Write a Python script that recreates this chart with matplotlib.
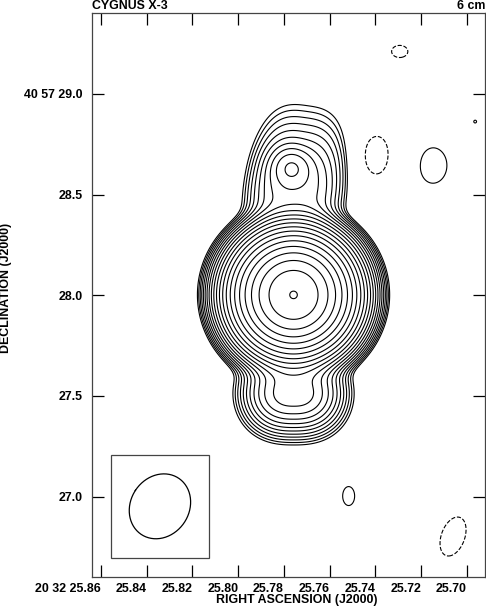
import numpy as np
import matplotlib
matplotlib.use("Agg")
import matplotlib.pyplot as plt
from matplotlib.patches import Rectangle

plt.rcParams["font.family"] = ["Liberation Sans", "DejaVu Sans"]
plt.rcParams["font.weight"] = "bold"

# map centre (core position) and axis limits
RA0 = 25.7758     # s, offset from 20 32
DEC0 = 28.002     # arcsec, offset from 40 57
RA_LIM = (25.8639, 25.6921)
DEC_LIM = (26.601, 29.402)
ARCSEC_PER_SEC = 11.33   # 15 * cos(dec)

# bright core: peak, gaussian sigma, edge radius and edge steepness (arcsec)
CORE_AMP = 1460.0
CORE_SIGMA = 0.144
CORE_EDGE = 0.477
CORE_EDGE_DEPTH = 1.85

# extended components: east/north offsets (arcsec), peak, widths, shape exponents, PA
#          north lobe  knot   south lobe
comp_dx = [-0.010, 0.010, 0.000]
comp_dy = [0.524, 0.633, -0.490]
comp_amp = [13.5, 13.0, 40.0]
comp_sx = [0.149, 0.060, 0.135]
comp_sy = [0.184, 0.060, 0.094]
comp_px = [3.0, 2.0, 2.5]
comp_py = [2.0, 2.0, 2.0]
comp_pa = [-8.0, 0.0, 0.0]

# noise patches
noise_dx = [-0.526, -0.415, -0.790, -0.688, -0.273, -0.900]
noise_dy = [1.209, 0.693, -1.200, 0.643, -0.999, 0.861]
noise_amp = [-1.25, -1.30, -1.30, 1.30, 1.15, 1.01]
noise_sx = [0.060, 0.092, 0.080, 0.099, 0.056, 0.025]
noise_sy = [0.045, 0.134, 0.139, 0.124, 0.089, 0.025]
noise_pa = [0.0, 0.0, -20.0, 0.0, 0.0, 0.0]

# contour levels (multiples of lowest level)
levels = [-1.0, 1.0, 1.41, 2.0, 2.83, 4.0, 5.66, 8.0, 11.3, 16.0, 22.6, 32.0,
          45.3, 64.0, 90.5, 128.0, 181.0, 256.0, 362.0, 512.0, 724.0, 1024.0,
          1448.0]

# restoring beam
BEAM_RA = 25.8342
BEAM_DEC = 26.952
BEAM_MAJ = 0.335
BEAM_MIN = 0.290
BEAM_PA = -33.0

xticks = [25.86, 25.84, 25.82, 25.80, 25.78, 25.76, 25.74, 25.72, 25.70]
xticklabels = ["20 32 25.86", "25.84", "25.82", "25.80", "25.78", "25.76",
               "25.74", "25.72", "25.70"]
yticks = [27.0, 27.5, 28.0, 28.5, 29.0]
yticklabels = ["27.0", "27.5", "28.0", "28.5", "40 57 29.0"]


def component(dx, dy, amp, sx, sy, px, py, pa):
    t = np.deg2rad(pa)
    u = dx * np.cos(t) - dy * np.sin(t)
    v = dx * np.sin(t) + dy * np.cos(t)
    return amp * np.exp(-0.5 * (np.abs(u / sx) ** px + np.abs(v / sy) ** py))


ra = np.linspace(RA_LIM[1], RA_LIM[0], 800)
dec = np.linspace(DEC_LIM[0], DEC_LIM[1], 1100)
RA, DEC = np.meshgrid(ra, dec)
EAST = (RA - RA0) * ARCSEC_PER_SEC
NORTH = DEC - DEC0

r = np.hypot(EAST, NORTH)
img = CORE_AMP * np.exp(-0.5 * (r / CORE_SIGMA) ** 2
                        - CORE_EDGE_DEPTH * (r / CORE_EDGE) ** 8)
for i in range(len(comp_amp)):
    img += component(EAST - comp_dx[i], NORTH - comp_dy[i], comp_amp[i],
                     comp_sx[i], comp_sy[i], comp_px[i], comp_py[i], comp_pa[i])
for i in range(len(noise_amp)):
    img += component(EAST - noise_dx[i], NORTH - noise_dy[i], noise_amp[i],
                     noise_sx[i], noise_sy[i], 2.0, 2.0, noise_pa[i])

fig = plt.figure(figsize=(4.86, 6.07), dpi=100)
ax = fig.add_axes([92 / 486, 30 / 607, 393 / 486, 564 / 607])

styles = ["dashed" if lv < 0 else "solid" for lv in levels]
ax.contour(RA, DEC, img, levels=levels, colors="black", linewidths=0.8,
           linestyles=styles)

ax.set_xlim(*RA_LIM)
ax.set_ylim(*DEC_LIM)

# beam box + beam ellipse
ax.add_patch(Rectangle((0.0483, 0.0337), 0.2494, 0.1826, transform=ax.transAxes,
                       facecolor="white", edgecolor="#444444", lw=0.9, zorder=3))
t = np.linspace(0, 2 * np.pi, 200)
pa = np.deg2rad(BEAM_PA)
bx = 0.5 * BEAM_MIN * np.cos(t)
by = 0.5 * BEAM_MAJ * np.sin(t)
be = bx * np.cos(pa) + by * np.sin(pa)
bn = -bx * np.sin(pa) + by * np.cos(pa)
ax.plot(BEAM_RA + be / ARCSEC_PER_SEC, BEAM_DEC + bn, color="black", lw=0.9,
        zorder=4)

ax.set_xticks(xticks)
ax.set_xticklabels(xticklabels, ha="right")
ax.set_yticks(yticks)
ax.set_yticklabels(yticklabels)
ax.tick_params(direction="in", length=8.5, width=0.9, top=True, right=True,
               labelsize=8.9, colors="black")
ax.tick_params(axis="x", pad=4)
ax.tick_params(axis="y", pad=7)
for s in ax.spines.values():
    s.set_color("#444444")
    s.set_linewidth(0.9)

fig.text(92 / 486, 1 - 6 / 607, "CYGNUS X-3", ha="left", va="center",
         fontsize=8.9, fontweight="bold")
fig.text(485 / 486, 1 - 6 / 607, "6 cm", ha="right", va="center",
         fontsize=8.9, fontweight="bold")
fig.text(297 / 486, 1 - 600 / 607, "RIGHT ASCENSION (J2000)", ha="center",
         va="center", fontsize=8.9, fontweight="bold")
fig.text(6 / 486, 1 - 288 / 607, "DECLINATION (J2000)", ha="center",
         va="center", rotation=90, fontsize=8.9, fontweight="bold")

fig.savefig("out.png", dpi=100)
